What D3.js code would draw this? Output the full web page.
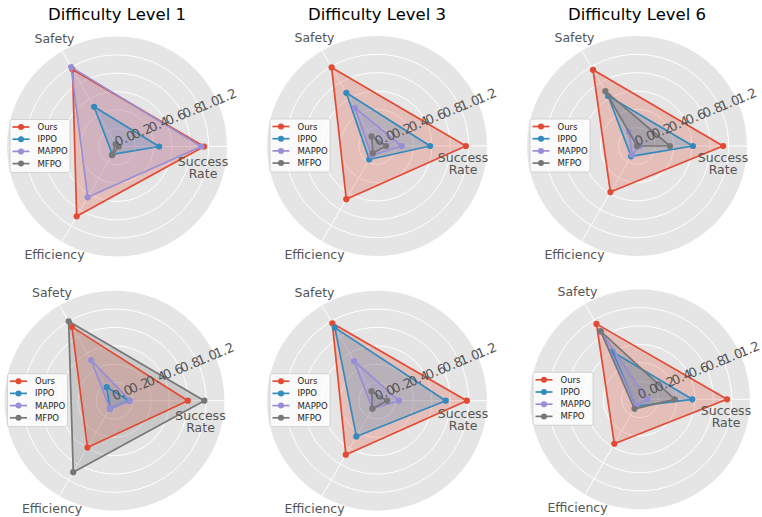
<!DOCTYPE html>
<html lang="en">
<head>
<meta charset="UTF-8">
<title>Difficulty radar charts</title>
<script src="https://d3js.org/d3.v7.min.js"></script>
<style>
    body { margin: 0; background: #fff; }
    svg text { font-family: "DejaVu Sans", sans-serif; }
</style>
</head>
<body>
<script>
    // data
    const categories = ["Success Rate", "Safety", "Efficiency"];
    const methods = ["Ours", "IPPO", "MAPPO", "MFPO"];
    const titles = ["Difficulty Level 1", "Difficulty Level 3", "Difficulty Level 6", "", "", ""];
    const radialTicks = [0.0, 0.2, 0.4, 0.6, 0.8, 1.0, 1.2];

    // one row per panel: [Success Rate, Safety, Efficiency]
    const ours  = [[0.95, 0.97, 0.88], [0.97, 0.99, 0.67], [0.94, 0.96, 0.58],
                   [0.80, 0.93, 0.59], [0.98, 0.975, 0.68], [0.95, 0.95, 0.56]];
    const ippo  = [[0.46, 0.50, 0.10], [0.58, 0.67, 0.17], [0.61, 0.63, 0.13],
                   [0.16, 0.17, 0.10], [0.75, 0.92, 0.45], [0.57, 0.60, 0.09]];
    const mappo = [[0.92, 1.00, 0.64], [0.27, 0.48, 0.12], [0.03, 0.18, 0.11],
                   [0.17, 0.51, 0.10], [0.24, 0.50, 0.10], [0.08, 0.85, 0.08]];
    const mfpo  = [[0.02, 0.03, 0.11], [0.10, 0.12, 0.09], [0.36, 0.69, 0.00],
                   [0.98, 1.00, 0.90], [0.11, 0.12, 0.10], [0.38, 0.86, 0.12]];

    const seriesData = [ours, ippo, mappo, mfpo];
    const colors = ["#E24A33", "#348ABD", "#988ED5", "#777777"];

    // layout
    const width = 762, height = 517;
    const outerR = 110;
    const panels = [
        {cx: 117, cy: 146.5, srDy: 15},
        {cx: 377, cy: 146, srDy: 11},
        {cx: 637, cy: 146, srDy: 11},
        {cx: 114.5, cy: 400.7, srDy: 15},
        {cx: 377, cy: 400.7, srDy: 13},
        {cx: 640, cy: 399.3, srDy: 11}
    ];

    const r = d3.scaleLinear().domain([0, 1.2]).range([0, outerR]);
    // angle of each category, counter-clockwise from east (matplotlib style)
    const theta = d3.scalePoint().domain(categories).range([0, 240]);
    // d3 radial angles are clockwise from north
    const toD3 = deg => Math.PI / 2 - deg * Math.PI / 180;

    const svg = d3.select("body").append("svg")
        .attr("width", width)
        .attr("height", height);

    const radar = d3.lineRadial()
        .angle((d, i) => toD3(theta(categories[i])))
        .radius(d => r(d))
        .curve(d3.curveLinearClosed);

    const pt = (val, cat) => {
        const a = theta(cat) * Math.PI / 180;
        return [r(val) * Math.cos(a), -r(val) * Math.sin(a)];
    };

    panels.forEach((p, k) => {
        const g = svg.append("g").attr("transform", `translate(${p.cx},${p.cy})`);

        // background + grid
        g.append("circle").attr("r", r(1.2)).attr("fill", "#E5E5E5");
        g.selectAll(".ring")
            .data(radialTicks.filter(t => t > 0 && t < 1.2))
            .enter().append("circle")
            .attr("r", d => r(d))
            .attr("fill", "none")
            .attr("stroke", "#fff")
            .attr("stroke-width", 1);
        g.selectAll(".spoke")
            .data(categories)
            .enter().append("line")
            .attr("x1", 0).attr("y1", 0)
            .attr("x2", d => pt(1.2, d)[0])
            .attr("y2", d => pt(1.2, d)[1])
            .attr("stroke", "#fff")
            .attr("stroke-width", 1);

        // fills first, then lines and markers
        seriesData.forEach((s, j) => {
            g.append("path")
                .attr("d", radar(s[k]))
                .attr("fill", colors[j])
                .attr("fill-opacity", 0.25)
                .attr("stroke", "none");
        });
        seriesData.forEach((s, j) => {
            g.append("path")
                .attr("d", radar(s[k]))
                .attr("fill", "none")
                .attr("stroke", colors[j])
                .attr("stroke-width", 1.7)
                .attr("stroke-linejoin", "round");
            g.selectAll(".m" + j)
                .data(s[k])
                .enter().append("circle")
                .attr("cx", (d, i) => pt(d, categories[i])[0])
                .attr("cy", (d, i) => pt(d, categories[i])[1])
                .attr("r", 3.1)
                .attr("fill", colors[j]);
        });

        // radial tick labels
        const la = 22.5 * Math.PI / 180;
        g.selectAll(".rtick")
            .data(radialTicks)
            .enter().append("text")
            .attr("transform", d => `translate(${r(d) * Math.cos(la)},${-r(d) * Math.sin(la)}) rotate(-22.5)`)
            .attr("font-size", "13px")
            .attr("fill", "#555")
            .text(d => d.toFixed(1));

        // category labels
        const lab = 125;
        categories.forEach(c => {
            if (c === "Success Rate") {
                const t = g.append("text")
                    .attr("text-anchor", "middle")
                    .attr("font-size", "12.5px")
                    .attr("fill", "#555");
                c.split(" ").forEach((w, i) => {
                    t.append("tspan")
                        .attr("x", 86)
                        .attr("y", p.srDy + 4.5 + i * 12)
                        .text(w);
                });
            } else {
                const [x, y] = pt(1.2 * lab / outerR, c);
                g.append("text")
                    .attr("x", x).attr("y", y + 4.5)
                    .attr("text-anchor", "middle")
                    .attr("font-size", "12.5px")
                    .attr("fill", "#555")
                    .text(c);
            }
        });

        // title
        if (titles[k]) {
            svg.append("text")
                .attr("x", p.cx)
                .attr("y", 20)
                .attr("text-anchor", "middle")
                .attr("font-size", "16.5px")
                .attr("fill", "#000")
                .text(titles[k]);
        }

        // legend
        const lg = g.append("g").attr("transform", "translate(-107,-27)");
        lg.append("rect")
            .attr("width", 60).attr("height", 53)
            .attr("rx", 2)
            .attr("fill", "#fff").attr("fill-opacity", 0.8)
            .attr("stroke", "#ccc").attr("stroke-width", 0.8);
        methods.forEach((m, j) => {
            const y = 7.5 + j * 12.2;
            lg.append("line")
                .attr("x1", 2.5).attr("x2", 19.5)
                .attr("y1", y).attr("y2", y)
                .attr("stroke", colors[j]).attr("stroke-width", 1.7);
            lg.append("circle")
                .attr("cx", 11).attr("cy", y).attr("r", 3)
                .attr("fill", colors[j]);
            lg.append("text")
                .attr("x", 27.5).attr("y", y + 3)
                .attr("font-size", "8.5px")
                .attr("fill", "#222")
                .text(m);
        });
    });
</script>
</body>
</html>
